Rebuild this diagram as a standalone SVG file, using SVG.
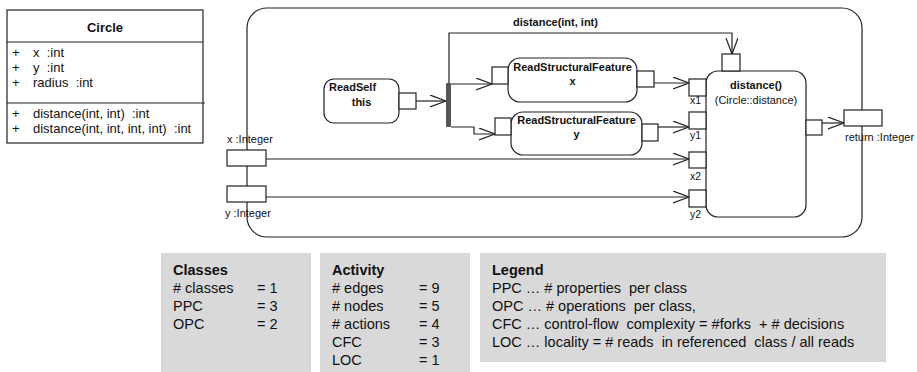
<svg xmlns="http://www.w3.org/2000/svg" width="917" height="372" viewBox="0 0 917 372">
<defs>
<style>
text{font-family:"Liberation Sans",Arial,sans-serif;fill:#111}
.b{font-weight:bold}
.s11{font-size:11px}
.s10{font-size:10.5px}
.cls{font-size:13px}
.st{font-size:14.5px}
.box{fill:#fff;stroke:#222;stroke-width:1.2}
.pin{fill:#fff;stroke:#222;stroke-width:1.2}
.ln{fill:none;stroke:#222;stroke-width:1.2}
.gray{fill:#d9d9d9}
</style>
<marker id="arr" markerUnits="userSpaceOnUse" markerWidth="18" markerHeight="14" refX="16" refY="6" orient="auto">
<path d="M0,0 L16,6 L0,12" fill="none" stroke="#222" stroke-width="1.2"/>
</marker>
</defs>
<rect width="917" height="372" fill="#fff"/>

<g id="class-circle">
<rect x="7" y="10" width="196" height="133" class="box"/>
<line x1="7" y1="42" x2="203" y2="42" class="ln"/>
<line x1="7" y1="103" x2="205" y2="103" class="ln"/>
<text x="105" y="32" class="cls b" text-anchor="middle">Circle</text>
<text class="cls" xml:space="preserve"><tspan x="12" y="57">+</tspan><tspan x="33" y="57">x  :int</tspan><tspan x="12" y="72">+</tspan><tspan x="33" y="72">y  :int</tspan><tspan x="12" y="87">+</tspan><tspan x="33" y="87">radius  :int</tspan><tspan x="12" y="118">+</tspan><tspan x="33" y="118">distance(int, int)  :int</tspan><tspan x="12" y="133">+</tspan><tspan x="33" y="133">distance(int, int, int, int)  :int</tspan></text>
</g>

<g id="activity-frame">
<rect x="247" y="8" width="615" height="229" rx="20" class="box"/>
</g>

<g id="connectors">
<line x1="416" y1="101" x2="446" y2="101" class="ln" marker-end="url(#arr)"/>
<polyline points="449,83 449,33 732,33 732,54" class="ln" marker-end="url(#arr)"/>
<line x1="451" y1="84" x2="492" y2="84" class="ln" marker-end="url(#arr)"/>
<polyline points="451,127 474,127 474,134 495,134" class="ln" marker-end="url(#arr)"/>
<line x1="654" y1="83" x2="689" y2="83" class="ln" marker-end="url(#arr)"/>
<line x1="658" y1="127" x2="689" y2="127" class="ln" marker-end="url(#arr)"/>
<line x1="266" y1="159" x2="689" y2="159" class="ln" marker-end="url(#arr)"/>
<line x1="266" y1="197" x2="689" y2="197" class="ln" marker-end="url(#arr)"/>
<line x1="822" y1="123" x2="844" y2="123" class="ln" marker-end="url(#arr)"/>
<text x="513" y="26" class="s11 b">distance(int, int)</text>
</g>

<g id="param-x">
<rect x="227" y="150" width="39" height="16" class="pin"/>
<text x="227" y="143" class="s11">x :Integer</text>
</g>
<g id="param-y">
<rect x="227" y="186" width="39" height="16" class="pin"/>
<text x="225" y="217" class="s11">y :Integer</text>
</g>
<g id="param-return">
<rect x="844" y="110" width="38" height="16" class="pin"/>
<text x="845" y="141" class="s11">return :Integer</text>
</g>

<g id="readself">
<rect x="324" y="79" width="75" height="44" rx="10" class="box"/>
<text x="329" y="91" class="s11 b">ReadSelf</text>
<text x="361.5" y="106" class="s11 b" text-anchor="middle">this</text>
<rect x="399" y="93" width="17" height="16" class="pin"/>
</g>

<g id="fork">
<rect x="446" y="83" width="5" height="44" rx="1" fill="#555"/>
</g>

<g id="rsf-x">
<rect x="508" y="58" width="129" height="44" rx="12" class="box"/>
<text x="572.5" y="71" class="s11 b" text-anchor="middle">ReadStructuralFeature</text>
<text x="572.5" y="85" class="s11 b" text-anchor="middle">x</text>
<rect x="492" y="67" width="16" height="17" class="pin"/>
<rect x="637" y="71" width="17" height="16" class="pin"/>
</g>

<g id="rsf-y">
<rect x="511" y="112" width="131" height="43" rx="12" class="box"/>
<text x="576.5" y="124" class="s11 b" text-anchor="middle">ReadStructuralFeature</text>
<text x="576.5" y="138" class="s11 b" text-anchor="middle">y</text>
<rect x="495" y="118" width="16" height="17" class="pin"/>
<rect x="642" y="124" width="16" height="17" class="pin"/>
</g>

<g id="distance">
<rect x="706" y="71" width="100" height="146" rx="12" class="box"/>
<text x="756" y="89" class="s11 b" text-anchor="middle">distance()</text>
<text x="756" y="104" class="s11" text-anchor="middle">(Circle::distance)</text>
<rect x="722" y="54" width="18" height="17" class="pin"/>
<rect x="806" y="120" width="16" height="15" class="pin"/>
<rect x="689" y="79" width="17" height="17" class="pin"/>
<rect x="689" y="112" width="17" height="17" class="pin"/>
<rect x="689" y="152" width="17" height="16" class="pin"/>
<rect x="689" y="190" width="17" height="17" class="pin"/>
<text x="690" y="104" class="s10">x1</text>
<text x="690" y="139" class="s10">y1</text>
<text x="690" y="180" class="s10">x2</text>
<text x="690" y="218" class="s10">y2</text>
</g>

<g id="stats-classes">
<rect x="161" y="253" width="150" height="119" class="gray"/>
<text x="173" y="275" class="st b">Classes</text>
<text class="st"><tspan x="173" y="293"># classes</tspan><tspan x="173" y="311">PPC</tspan><tspan x="173" y="329">OPC</tspan></text>
<text class="st"><tspan x="257" y="293">= 1</tspan><tspan x="257" y="311">= 3</tspan><tspan x="257" y="329">= 2</tspan></text>
</g>

<g id="stats-activity">
<rect x="320" y="253" width="150" height="119" class="gray"/>
<text x="332" y="275" class="st b">Activity</text>
<text class="st"><tspan x="332" y="293"># edges</tspan><tspan x="332" y="311"># nodes</tspan><tspan x="332" y="329"># actions</tspan><tspan x="332" y="347">CFC</tspan><tspan x="332" y="365">LOC</tspan></text>
<text class="st"><tspan x="419" y="293">= 9</tspan><tspan x="419" y="311">= 5</tspan><tspan x="419" y="329">= 4</tspan><tspan x="419" y="347">= 3</tspan><tspan x="419" y="365">= 1</tspan></text>
</g>

<g id="legend">
<rect x="480" y="253" width="406" height="109" class="gray"/>
<text x="492" y="275" class="st b">Legend</text>
<text class="st" xml:space="preserve"><tspan x="492" y="293">PPC … # properties  per class</tspan><tspan x="492" y="311">OPC … # operations  per class,</tspan><tspan x="492" y="329">CFC … control-flow  complexity = #forks  + # decisions</tspan><tspan x="492" y="347">LOC … locality = # reads  in referenced  class / all reads</tspan></text>
</g>
</svg>
